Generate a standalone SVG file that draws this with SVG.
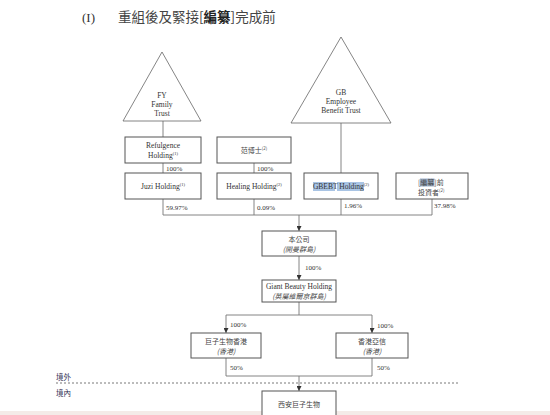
<svg xmlns="http://www.w3.org/2000/svg" width="550" height="415" viewBox="0 0 550 415">
<defs>
<marker id="arr" viewBox="0 0 6 6" refX="6" refY="3" markerWidth="5" markerHeight="5" orient="auto" markerUnits="userSpaceOnUse">
<path d="M0,0 L6,3 L0,6 z" fill="#333"/>
</marker>
<style>
.box{fill:#fff;stroke:#555;stroke-width:1}
.tri{fill:#fff;stroke:#666;stroke-width:0.8}
.ln{fill:none;stroke:#777;stroke-width:0.9}
.ar{fill:none;stroke:#777;stroke-width:0.9;marker-end:url(#arr)}
.t{font-family:"Liberation Serif","Noto Sans CJK TC",serif;font-size:7.5px;fill:#333;text-anchor:middle}
.c{font-family:"Noto Sans CJK TC","Liberation Serif",serif;font-size:7px;fill:#444;text-anchor:middle}
.s{text-anchor:start}
.i{font-style:italic}
.p{font-family:"Liberation Serif",serif;font-size:7px;fill:#333}
.sup{font-size:4.5px}
</style>
</defs>
<rect x="0" y="0" width="550" height="415" fill="#fff"/>
<rect x="0" y="411" width="550" height="4" fill="#f4ebe8"/>
<g id="title">
<text x="82" y="22" font-family="Liberation Serif" font-size="13" fill="#333">(I)</text>
<text x="118" y="22" font-family="Noto Sans CJK TC, Liberation Serif, serif" font-size="13.5" fill="#444">重組後及緊接[<tspan font-weight="bold" fill="#222">編纂</tspan>]完成前</text>
</g>
<g id="connectors">
<path class="ln" d="M163,121 V137"/>
<path class="ln" d="M163,163 V173"/>
<path class="ln" d="M254,163 V173"/>
<path class="ln" d="M341,123 V173"/>
<path class="ln" d="M163,199 V215 H432 V199"/>
<path class="ln" d="M254,199 V215"/>
<path class="ln" d="M341,199 V215"/>
<path class="ar" d="M299,215 V231"/>
<path class="ar" d="M299,256 V280"/>
<path class="ln" d="M299,302 V315"/>
<path class="ln" d="M226,315 H372"/>
<path class="ar" d="M226,315 V333"/>
<path class="ar" d="M372,315 V333"/>
<path class="ln" d="M226,358 V376 H372 V358"/>
<path class="ar" d="M299,376 V391"/>
<path d="M56,383 H458" fill="none" stroke="#555" stroke-width="0.8" stroke-dasharray="2,2"/>
<text class="p" x="166" y="171">100%</text>
<text class="p" x="257" y="171">100%</text>
<text class="p" x="166" y="210">59.97%</text>
<text class="p" x="257" y="210">0.09%</text>
<text class="p" x="344" y="208">1.96%</text>
<text class="p" x="434" y="208">37.98%</text>
<text class="p" x="305" y="270">100%</text>
<text class="p" x="230" y="327">100%</text>
<text class="p" x="377" y="328">100%</text>
<text class="p" x="230" y="370">50%</text>
<text class="p" x="377" y="370">50%</text>
</g>
<g id="zone-labels">
<text x="56" y="380" font-family="Noto Sans CJK TC, serif" font-size="7.5" fill="#335">境外</text>
<text x="56" y="396" font-family="Noto Sans CJK TC, serif" font-size="7.5" fill="#335">境內</text>
</g>
<g id="fy-trust">
<polygon class="tri" points="162,52 123,121 201,121"/>
<text class="t" x="162" y="98">FY</text>
<text class="t" x="162" y="107">Family</text>
<text class="t" x="162" y="116">Trust</text>
</g>
<g id="gb-trust">
<polygon class="tri" points="341,37 291,123 391,123"/>
<text class="t" x="341" y="95">GB</text>
<text class="t" x="341" y="104">Employee</text>
<text class="t" x="341" y="113">Benefit Trust</text>
</g>
<g id="refulgence">
<rect class="box" x="125" y="137" width="76" height="26"/>
<text class="t" x="163" y="148">Refulgence</text>
<text class="t" x="163" y="158">Holding<tspan class="sup" dy="-3">(1)</tspan></text>
</g>
<g id="fan">
<rect class="box" x="217" y="137" width="74" height="26"/>
<text class="c" x="254" y="153">范博士<tspan class="sup" dy="-3">(2)</tspan></text>
</g>
<g id="juzi">
<rect class="box" x="125" y="173" width="76" height="26"/>
<text class="t" x="163" y="189">Juzi Holding<tspan class="sup" dy="-3">(1)</tspan></text>
</g>
<g id="healing">
<rect class="box" x="217" y="173" width="74" height="26"/>
<text class="t" x="254" y="189">Healing Holding<tspan class="sup" dy="-3">(2)</tspan></text>
</g>
<g id="gbebt">
<rect class="box" x="304" y="173" width="74" height="26"/>
<rect x="313" y="182" width="22" height="9" fill="#a9c4e4"/>
<rect x="337" y="182" width="27" height="9" fill="#a9c4e4"/>
<text class="t" x="341" y="189" fill="#223">GBEBT Holding<tspan class="sup" dy="-3">(2)</tspan></text>
</g>
<g id="investors">
<rect class="box" x="396" y="173" width="72" height="26"/>
<rect x="420" y="178.5" width="14.5" height="8" fill="#9fb2cc"/>
<text class="c s" x="418" y="185">[編纂]前</text>
<text class="c s" x="418" y="195">投資者<tspan class="sup" dy="-3">(2)</tspan></text>
</g>
<g id="company">
<rect class="box" x="262" y="231" width="74" height="25"/>
<text class="c" x="299" y="242">本公司</text>
<text class="c i" x="299" y="252">(開曼群島)</text>
</g>
<g id="giant-beauty">
<rect class="box" x="262" y="280" width="74" height="22"/>
<text class="t" x="299" y="289">Giant Beauty Holding</text>
<text class="c i" x="299" y="299">(英屬維爾京群島)</text>
</g>
<g id="juzi-hk">
<rect class="box" x="191" y="333" width="70" height="25"/>
<text class="c" x="226" y="344">巨子生物香港</text>
<text class="c i" x="226" y="354">(香港)</text>
</g>
<g id="hk-yaxin">
<rect class="box" x="336" y="333" width="72" height="25"/>
<text class="c" x="372" y="344">香港亞信</text>
<text class="c i" x="372" y="354">(香港)</text>
</g>
<g id="xian-juzi">
<rect class="box" x="262" y="391" width="74" height="30"/>
<text class="c" x="299" y="407">西安巨子生物</text>
</g>
</svg>
